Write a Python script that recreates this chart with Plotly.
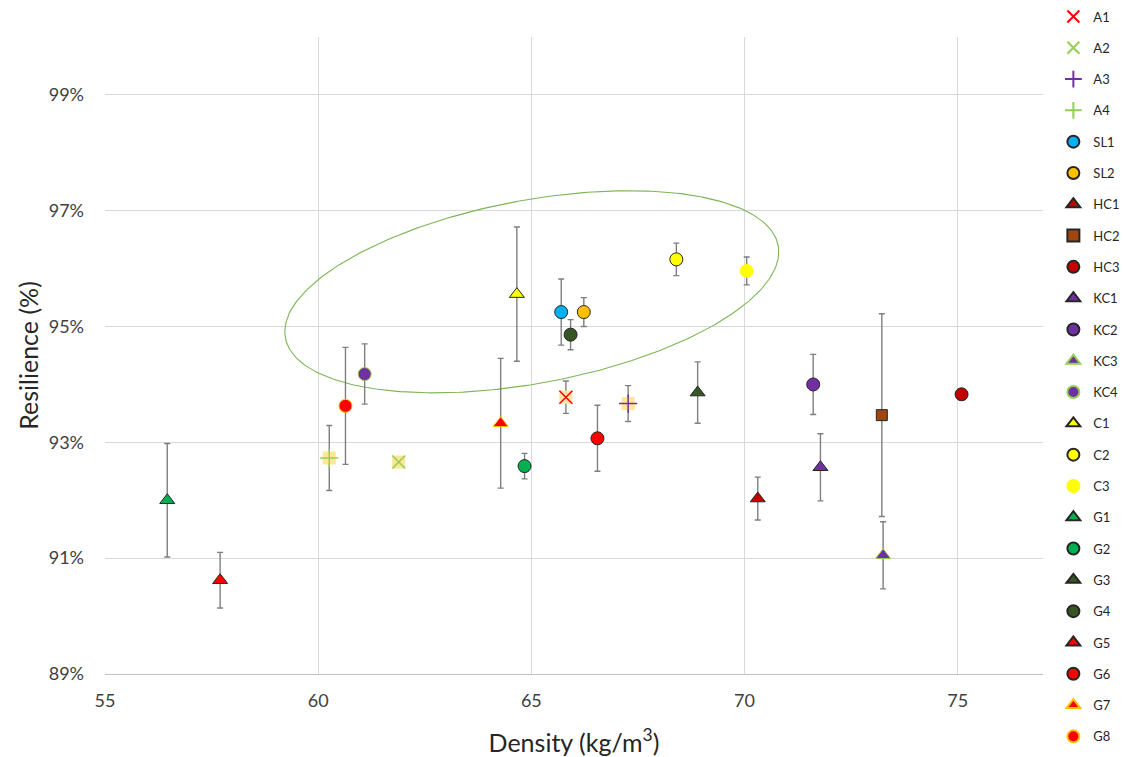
import numpy as np
import plotly.graph_objects as go

names = ["A1", "A2", "A3", "A4", "SL1", "SL2", "HC1", "HC2", "HC3", "KC1", "KC2", "KC3",
         "KC4", "C1", "C2", "C3", "G1", "G2", "G3", "G4", "G5", "G6", "G7", "G8"]
density = [65.81, 61.89, 67.27, 60.26, 65.70, 66.23, 70.31, 73.22, 75.09, 71.78, 71.61, 73.25,
           61.09, 64.66, 68.40, 70.05, 56.46, 64.84, 68.90, 65.92, 57.70, 66.55, 64.28, 60.64]
resilience = [93.78, 92.66, 93.67, 92.73, 95.25, 95.25, 92.03, 93.47, 93.83, 92.57, 94.00, 91.05,
              94.18, 95.56, 96.16, 95.96, 92.00, 92.59, 93.86, 94.86, 90.62, 93.07, 93.33, 93.63]
error = [0.28, 0.0, 0.31, 0.56, 0.57, 0.25, 0.37, 1.75, 0.0, 0.58, 0.52, 0.58,
         0.52, 1.16, 0.28, 0.24, 0.98, 0.22, 0.53, 0.26, 0.48, 0.57, 1.12, 1.01]

x_ticks = [55, 60, 65, 70, 75]
y_ticks = [89, 91, 93, 95, 97, 99]
y_tick_labels = ["89%", "91%", "93%", "95%", "97%", "99%"]

DARK = "#262626"
# style per series: (symbol, fill, edge, background square or None)
styles = {
    "A1": ("x-thin", "#FF0000", "#FF0000", "#FFE2A8"),
    "A2": ("x-thin", "#92D050", "#92D050", "#FFE699"),
    "A3": ("cross-thin", "#7030A0", "#7030A0", "#FFE699"),
    "A4": ("cross-thin", "#92D050", "#92D050", "#FFE699"),
    "SL1": ("circle", "#00B0F0", DARK, None),
    "SL2": ("circle", "#FFC000", DARK, None),
    "HC1": ("triangle-up", "#C00000", DARK, None),
    "HC2": ("square", "#A0460E", DARK, None),
    "HC3": ("circle", "#C00000", DARK, None),
    "KC1": ("triangle-up", "#7030A0", DARK, None),
    "KC2": ("circle", "#7030A0", DARK, None),
    "KC3": ("triangle-up", "#7030A0", "#92D050", None),
    "KC4": ("circle", "#7030A0", "#92D050", None),
    "C1": ("triangle-up", "#FFFF00", DARK, None),
    "C2": ("circle", "#FFFF00", DARK, None),
    "C3": ("circle", "#FFFF00", "#FFFF00", None),
    "G1": ("triangle-up", "#00B050", DARK, None),
    "G2": ("circle", "#00B050", DARK, None),
    "G3": ("triangle-up", "#375623", DARK, None),
    "G4": ("circle", "#375623", DARK, None),
    "G5": ("triangle-up", "#FF0000", DARK, None),
    "G6": ("circle", "#FF0000", DARK, None),
    "G7": ("triangle-up", "#FF0000", "#FFC000", None),
    "G8": ("circle", "#FF0000", "#FFC000", None),
}

fig = go.Figure()

# highlight ellipse (pixel-space geometry converted through axis scales)
ell_cx, ell_cy = 65.01, 95.60       # centre, data units
ell_a, ell_b, ell_deg = 250.7, 91.5, 10.6   # semi-axes (px) and tilt
px_per_x = 938 / 22.0
px_per_y = 637 / 11.0
t = np.linspace(0, 2 * np.pi, 361)
th = np.deg2rad(ell_deg)
dx = ell_a * np.cos(t) * np.cos(th) - ell_b * np.sin(t) * np.sin(th)
dy = ell_a * np.cos(t) * np.sin(th) + ell_b * np.sin(t) * np.cos(th)
fig.add_trace(go.Scatter(x=ell_cx + dx / px_per_x, y=ell_cy + dy / px_per_y, mode="lines",
                         line=dict(color="#7DB554", width=1.1), showlegend=False,
                         hoverinfo="skip"))

for i, n in enumerate(names):
    sym, fill, edge, bg = styles[n]
    err = dict(type="data", array=[error[i]], visible=error[i] > 0,
               color="#7F7F7F", thickness=1.4, width=3)
    if bg is not None:
        fig.add_trace(go.Scatter(x=[density[i]], y=[resilience[i]], mode="markers",
                                 marker=dict(symbol="square", size=13, color=bg,
                                             line=dict(width=0)),
                                 error_y=err, showlegend=False, legendgroup=n,
                                 hoverinfo="skip"))
        fig.add_trace(go.Scatter(x=[density[i]], y=[resilience[i]], mode="markers", name=n,
                                 legendgroup=n,
                                 marker=dict(symbol=sym, size=13, color=fill,
                                             line=dict(color=edge, width=1.5))))
    else:
        size = 11 if sym == "square" else 13
        fig.add_trace(go.Scatter(x=[density[i]], y=[resilience[i]], mode="markers", name=n,
                                 legendgroup=n, error_y=err,
                                 marker=dict(symbol=sym, size=size, color=fill,
                                             line=dict(color=edge, width=1))))

FONT = "Lato, Liberation Sans, sans-serif"
fig.update_layout(
    width=1123, height=757,
    margin=dict(l=105, r=80, t=37, b=83, autoexpand=False),
    paper_bgcolor="white", plot_bgcolor="white",
    font=dict(family=FONT, color="#262626"),
    showlegend=True,
    legend=dict(xref="container", yref="container", x=0.938, y=0.998,
                xanchor="left", yanchor="top", font=dict(size=13, color="#262626"),
                tracegroupgap=11.4, itemsizing="constant", bgcolor="rgba(0,0,0,0)",
                maxheight=757),
    xaxis=dict(range=[55, 77], tickvals=x_ticks, ticks="", showgrid=True,
               gridcolor="#D9D9D9", gridwidth=1, zeroline=False,
               showline=True, linecolor="#BFBFBF", linewidth=1,
               tickfont=dict(size=18, color="#404040"), ticklabelstandoff=10,
               title=dict(text="Density (kg/m<sup>3</sup>)", font=dict(size=25, color="#262626"),
                          standoff=26)),
    yaxis=dict(range=[89, 100], tickvals=y_ticks, ticktext=y_tick_labels, ticks="",
               showgrid=True, gridcolor="#D9D9D9", gridwidth=1, zeroline=False,
               showline=False, tickfont=dict(size=18, color="#404040"),
               ticklabelstandoff=20,
               title=dict(text="Resilience (%)", font=dict(size=25, color="#262626"),
                          standoff=2)),
)
fig.write_html("out.html")
